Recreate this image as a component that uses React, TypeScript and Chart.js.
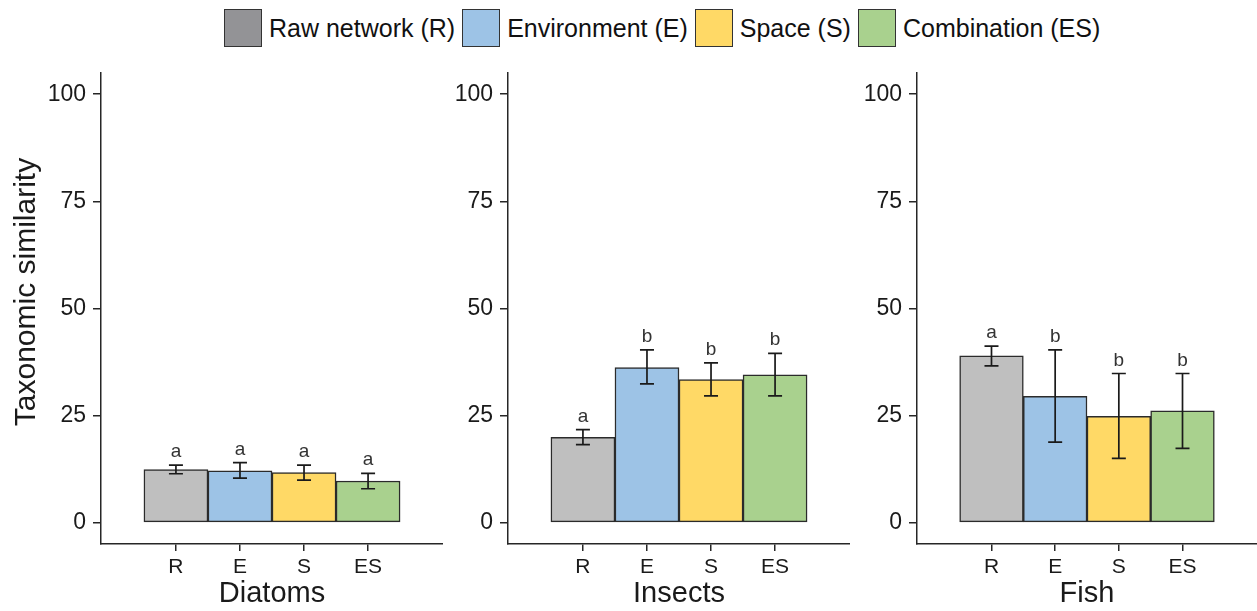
import React, { useEffect, useRef } from 'react';
import { Chart, registerables } from 'chart.js';

Chart.register(...registerables);

// ---------- data ----------
const categories = ['R', 'E', 'S', 'ES'];
const seriesNames = ['Raw network (R)', 'Environment (E)', 'Space (S)', 'Combination (ES)'];
const panelNames = ['Diatoms', 'Insects', 'Fish'];
const yTickValues = [0, 25, 50, 75, 100];
const yAxisTitle = 'Taxonomic similarity';

const diatomsMean = [12.4, 12.1, 11.7, 9.7];
const diatomsLow = [11.4, 10.4, 9.9, 7.9];
const diatomsHigh = [13.4, 14.0, 13.4, 11.5];
const diatomsLetters = ['a', 'a', 'a', 'a'];

const insectsMean = [19.9, 36.2, 33.4, 34.5];
const insectsLow = [18.2, 32.4, 29.6, 29.6];
const insectsHigh = [21.7, 40.3, 37.3, 39.5];
const insectsLetters = ['a', 'b', 'b', 'b'];

const fishMean = [38.9, 29.5, 24.8, 26.1];
const fishLow = [36.6, 18.8, 15.0, 17.3];
const fishHigh = [41.2, 40.3, 34.8, 34.8];
const fishLetters = ['a', 'b', 'b', 'b'];

// ---------- styles ----------
const FONT = '"Liberation Sans", Arial, Helvetica, sans-serif';
const barColors = ['#BFBFBF', '#9DC3E6', '#FFD966', '#A9D18E'];
const legendColors = ['#939396', '#9DC3E6', '#FFD966', '#A9D18E'];
const AXIS = '#262626';
const CANVAS_TOP = 52;
const CANVAS_H = 611 - CANVAS_TOP;

type PanelCfg = {
  name: string;
  mean: number[];
  low: number[];
  high: number[];
  letters: string[];
  left: number;
  width: number;
  yWidth: number;
  showYTitle: boolean;
};

const panels: PanelCfg[] = [
  { name: panelNames[0], mean: diatomsMean, low: diatomsLow, high: diatomsHigh, letters: diatomsLetters, left: 0, width: 443, yWidth: 101, showYTitle: true },
  { name: panelNames[1], mean: insectsMean, low: insectsLow, high: insectsHigh, letters: insectsLetters, left: 443, width: 407, yWidth: 65, showYTitle: false },
  { name: panelNames[2], mean: fishMean, low: fishLow, high: fishHigh, letters: fishLetters, left: 850, width: 407, yWidth: 67, showYTitle: false },
];

function Panel({ cfg }: { cfg: PanelCfg }) {
  const ref = useRef<HTMLCanvasElement>(null);

  useEffect(() => {
    if (!ref.current) return;

    const errPlugin = {
      id: 'errbars',
      afterDatasetsDraw(chart: any) {
        const ctx = chart.ctx;
        const y = chart.scales.y;
        const meta = chart.getDatasetMeta(0);
        ctx.save();
        meta.data.forEach((bar: any, i: number) => {
          const x = bar.x;
          const yl = y.getPixelForValue(cfg.low[i]);
          const yh = y.getPixelForValue(cfg.high[i]);
          const cap = 7;
          ctx.strokeStyle = '#1a1a1a';
          ctx.lineWidth = 1.7;
          ctx.beginPath();
          ctx.moveTo(x, yl);
          ctx.lineTo(x, yh);
          ctx.moveTo(x - cap, yl);
          ctx.lineTo(x + cap, yl);
          ctx.moveTo(x - cap, yh);
          ctx.lineTo(x + cap, yh);
          ctx.stroke();
          ctx.fillStyle = '#333333';
          ctx.font = `19px ${FONT}`;
          ctx.textAlign = 'center';
          ctx.textBaseline = 'alphabetic';
          ctx.fillText(cfg.letters[i], x, yh - 8);
        });
        if (cfg.showYTitle) {
          ctx.translate(35, 292 - CANVAS_TOP);
          ctx.rotate(-Math.PI / 2);
          ctx.fillStyle = '#1a1a1a';
          ctx.font = `30px ${FONT}`;
          ctx.textAlign = 'center';
          ctx.textBaseline = 'alphabetic';
          ctx.fillText(yAxisTitle, 0, 0);
        }
        ctx.restore();
      },
    };

    const chart = new Chart(ref.current, {
      type: 'bar',
      data: {
        datasets: [
          {
            label: cfg.name,
            data: cfg.mean.map((v, i) => ({ x: i + 1, y: v })),
            backgroundColor: barColors,
            borderColor: '#2b2b2b',
            borderWidth: 1.5,
            borderSkipped: false,
            barPercentage: 1,
            categoryPercentage: 1,
          } as any,
        ],
      },
      options: {
        animation: false,
        responsive: false,
        devicePixelRatio: 1,
        layout: { padding: { top: 0, left: 0, right: 0, bottom: 0 } },
        plugins: {
          legend: { display: false },
          tooltip: { enabled: false },
        },
        scales: {
          x: {
            type: 'linear',
            min: -0.17,
            max: 5.17,
            offset: false,
            afterBuildTicks: (s: any) => {
              s.ticks = categories.map((_, i) => ({ value: i + 1 }));
            },
            afterFit: (s: any) => {
              s.height = 67;
            },
            ticks: {
              callback: (_v: any, i: number) => categories[i] ?? '',
              font: { size: 21, family: FONT },
              color: '#1a1a1a',
              padding: 4,
              autoSkip: false,
              maxRotation: 0,
            },
            grid: { offset: false, drawOnChartArea: false, drawTicks: true, tickLength: 7, color: AXIS, lineWidth: 1.5 },
            border: { display: true, color: AXIS, width: 1.5 },
            title: { display: true, text: cfg.name, font: { size: 29, family: FONT }, color: '#1a1a1a', padding: { top: 0, bottom: 0 } },
          } as any,
          y: {
            type: 'linear',
            min: -5,
            max: 105,
            afterBuildTicks: (s: any) => {
              s.ticks = yTickValues.map((v) => ({ value: v }));
            },
            afterFit: (s: any) => {
              s.width = cfg.yWidth;
            },
            ticks: {
              font: { size: 23, family: FONT },
              color: '#1a1a1a',
              padding: 7,
            },
            grid: { drawOnChartArea: false, drawTicks: true, tickLength: 8, color: AXIS, lineWidth: 1.5 },
            border: { display: true, color: AXIS, width: 1.5 },
          } as any,
        },
      },
      plugins: [errPlugin],
    });

    return () => chart.destroy();
  }, [cfg]);

  return (
    <canvas
      ref={ref}
      width={cfg.width}
      height={CANVAS_H}
      style={{ position: 'absolute', left: cfg.left, top: CANVAS_TOP, width: cfg.width, height: CANVAS_H }}
    />
  );
}

export default function App() {
  return (
    <div style={{ position: 'absolute', left: 0, top: 0, width: 1257, height: 611, background: '#ffffff', overflow: 'hidden' }}>
      <div
        style={{
          position: 'absolute',
          left: 224,
          top: 9,
          display: 'flex',
          alignItems: 'center',
          fontFamily: FONT,
          fontSize: 25,
          color: '#111111',
          whiteSpace: 'nowrap',
        }}
      >
        {seriesNames.map((n, i) => (
          <div key={n} style={{ display: 'flex', alignItems: 'center', marginRight: 7 }}>
            <div
              style={{
                width: 38,
                height: 38,
                boxSizing: 'border-box',
                background: legendColors[i],
                border: '1.5px solid #333333',
                marginRight: 7,
              }}
            />
            <span>{n}</span>
          </div>
        ))}
      </div>
      {panels.map((p) => (
        <Panel key={p.name} cfg={p} />
      ))}
    </div>
  );
}
